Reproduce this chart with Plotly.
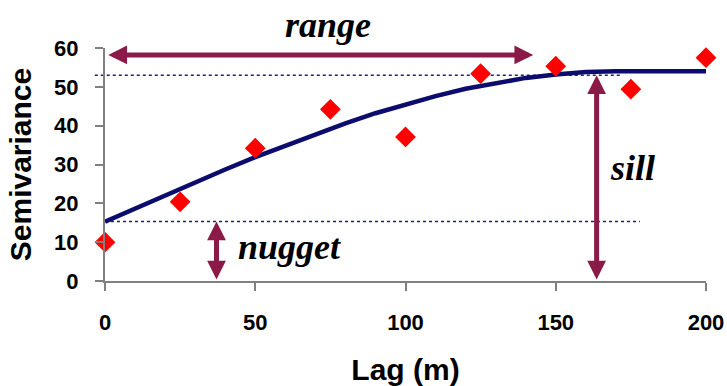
import plotly.graph_objects as go

# Observed semivariance points
lag_obs = [0, 25, 50, 75, 100, 125, 150, 175, 200]
semivar_obs = [10.0, 20.4, 34.2, 44.2, 37.1, 53.4, 55.3, 49.4, 57.5]

# Fitted model curve
lag_model = [0, 10, 20, 30, 40, 50, 60, 70, 80, 90, 100, 110, 120, 130, 140, 150, 160, 170, 180, 190, 200]
semivar_model = [15.3, 18.7, 22.1, 25.4, 28.7, 31.9, 34.9, 37.9, 40.6, 43.2, 45.5, 47.6, 49.5, 51.0, 52.3, 53.2, 53.8, 54.0, 54.0, 54.0, 54.0]

# Guide values
nugget = 15.3
sill = 53.0
range_lag = 142.5
range_level = 58.2
sill_lag = 163.6
nugget_lag = 37.1
nugget_line_end = 178
sill_line_end = 172

x_ticks = [0, 50, 100, 150, 200]
y_ticks = [0, 10, 20, 30, 40, 50, 60]

ARROW = "#8c1a48"
NAVY = "#0c0c6e"
AXIS = "#808080"

fig = go.Figure()

fig.add_trace(go.Scatter(
    x=lag_model, y=semivar_model, mode="lines",
    line=dict(color=NAVY, width=4.5), hoverinfo="skip", showlegend=False))

fig.add_trace(go.Scatter(
    x=lag_obs, y=semivar_obs, mode="markers",
    marker=dict(symbol="diamond", size=16, color="#ff0000", line=dict(width=0)),
    cliponaxis=False, showlegend=False))

# dotted guide lines
fig.add_shape(type="line", xref="x", yref="y", x0=0, x1=nugget_line_end, y0=nugget, y1=nugget,
              line=dict(color="#1c1c8a", width=1.5, dash="dot"), layer="below")
fig.add_shape(type="line", xref="paper", yref="y", x0=-0.017, x1=sill_line_end / 200, y0=sill, y1=sill,
              line=dict(color="#1c1c8a", width=1.5, dash="dot"), layer="below")

def darrow(x0, y0, x1, y1):
    fig.add_annotation(x=x1, y=y1, ax=x0, ay=y0, xref="x", yref="y", axref="x", ayref="y",
                       text="", showarrow=True, arrowhead=2, startarrowhead=2,
                       arrowside="end+start", arrowsize=0.75, startarrowsize=0.75,
                       arrowwidth=5, arrowcolor=ARROW, standoff=0, startstandoff=0)

darrow(0.6, range_level, range_lag, range_level)
darrow(sill_lag, 0, sill_lag, sill)
darrow(nugget_lag, 0, nugget_lag, nugget)

lab_font = dict(family="Liberation Serif, Times New Roman, serif", size=36, color="#000000")
fig.add_annotation(x=74.3, y=1.195, xref="x", yref="paper", text="<b><i>range</i></b>",
                   showarrow=False, font=lab_font)
fig.add_annotation(x=61.5, y=8.7, xref="x", yref="y", text="<b><i>nugget</i></b>",
                   showarrow=False, font=lab_font)
fig.add_annotation(x=175.7, y=29.2, xref="x", yref="y", text="<b><i>sill</i></b>",
                   showarrow=False, font=lab_font)

tick_font = dict(family="Liberation Sans, Arial, sans-serif", size=22, color="#000000")
title_font = dict(family="Liberation Sans, Arial, sans-serif", size=30, color="#000000")

fig.update_layout(
    width=727, height=386,
    margin=dict(l=105, r=21, t=48, b=105, autoexpand=False),
    plot_bgcolor="white", paper_bgcolor="white",
    xaxis=dict(range=[0, 200], tickvals=x_ticks, ticktext=[f"<b>{v}</b>" for v in x_ticks],
               showline=True, linecolor=AXIS, linewidth=2, ticks="outside", ticklen=8,
               tickwidth=2, tickcolor=AXIS, showgrid=False, zeroline=False, automargin=False,
               tickfont=tick_font, ticklabelstandoff=13,
               title=dict(text="<b>Lag (m)</b>", font=title_font, standoff=25)),
    yaxis=dict(range=[0, 60], tickvals=y_ticks, ticktext=[f"<b>{v}</b>" for v in y_ticks],
               showline=True, linecolor=AXIS, linewidth=2, ticks="outside", ticklen=8,
               tickwidth=2, tickcolor=AXIS, showgrid=False, zeroline=False, automargin=False,
               tickfont=tick_font, ticklabelstandoff=12,
               title=dict(text="<b>Semivariance</b>", font=title_font, standoff=14)),
)

fig.write_html("out.html")
